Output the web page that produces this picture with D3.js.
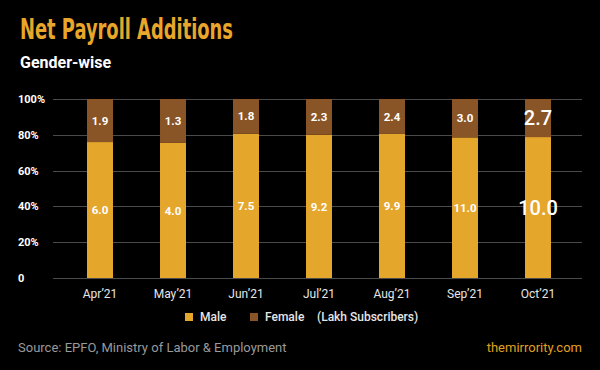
<!DOCTYPE html>
<html>
<head>
<meta charset="utf-8">
<script src="https://cdn.jsdelivr.net/npm/d3@7"></script>
<style>
  html, body { margin: 0; padding: 0; background: #000; }
  svg { display: block; font-family: Roboto, "Noto Sans", sans-serif; }
</style>
</head>
<body>
<svg id="chart" width="600" height="370"></svg>
<script>
  const months = ['Apr’21', 'May’21', 'Jun’21', 'Jul’21', 'Aug’21', 'Sep’21', 'Oct’21'];
  const male = [6.0, 4.0, 7.5, 9.2, 9.9, 11.0, 10.0];
  const female = [1.9, 1.3, 1.8, 2.3, 2.4, 3.0, 2.7];
  const yTicks = [0, 0.2, 0.4, 0.6, 0.8, 1];
  const yTickLabels = ['0', '20%', '40%', '60%', '80%', '100%'];
  const seriesKeys = ['male', 'female'];
  const seriesNames = ['Male', 'Female'];

  const colors = { male: '#e5a62c', female: '#8a5526' };
  const [width, height] = [600, 370];

  const rows = months.map((m, i) => ({ month: m, male: male[i], female: female[i] }));

  const svg = d3.select('#chart');

  svg.append('rect')
      .attr('width', width)
      .attr('height', height)
      .attr('fill', '#000');

  // title
  svg.append('text')
      .attr('x', 20)
      .attr('y', 39)
      .attr('fill', '#e8a62a')
      .attr('font-family', '"Liberation Sans Narrow", "DejaVu Sans Condensed", "DejaVu Sans", sans-serif')
      .attr('font-weight', 'bold')
      .attr('font-size', 29)
      .attr('textLength', 213)
      .attr('lengthAdjust', 'spacingAndGlyphs')
      .text('Net Payroll Additions');

  svg.append('text')
      .attr('x', 20)
      .attr('y', 68)
      .attr('fill', '#fff')
      .attr('font-weight', 'bold')
      .attr('font-size', 16)
      .text('Gender-wise');

  const x = d3.scaleBand()
      .domain(months)
      .range([63.5, 574.5])
      .paddingInner(0.644)
      .paddingOuter(0.322);

  const y = d3.scaleLinear()
      .domain([0, 1])
      .range([278, 99]);

  const stacked = d3.stack()
      .keys(seriesKeys)
      .offset(d3.stackOffsetExpand)(rows);

  // grid
  svg.append('g')
    .selectAll('line')
    .data(yTicks)
    .join('line')
      .attr('x1', 53)
      .attr('x2', 582)
      .attr('y1', d => Math.round(y(d)) + 0.5)
      .attr('y2', d => Math.round(y(d)) + 0.5)
      .attr('stroke', '#4a4a4a')
      .attr('stroke-width', 1);

  svg.append('g')
    .selectAll('text')
    .data(yTicks)
    .join('text')
      .attr('x', 18)
      .attr('y', d => y(d))
      .attr('dy', '0.36em')
      .attr('fill', '#fff')
      .attr('font-weight', 'bold')
      .attr('font-size', 11)
      .text((d, i) => yTickLabels[i]);

  // bars
  const layer = svg.append('g')
    .selectAll('g')
    .data(stacked)
    .join('g')
      .attr('fill', d => colors[d.key]);

  layer.selectAll('rect')
    .data(d => d)
    .join('rect')
      .attr('x', d => x(d.data.month))
      .attr('width', x.bandwidth())
      .attr('y', d => y(d[1]))
      .attr('height', d => y(d[0]) - y(d[1]));

  // values
  const last = months[months.length - 1];
  svg.append('g')
    .selectAll('g')
    .data(stacked)
    .join('g')
    .selectAll('text')
    .data(s => s.map(d => ({ d, key: s.key })))
    .join('text')
      .attr('x', ({ d }) => x(d.data.month) + x.bandwidth() / 2)
      .attr('y', ({ d }) => (y(d[0]) + y(d[1])) / 2)
      .attr('dy', '0.36em')
      .attr('text-anchor', 'middle')
      .attr('fill', '#fff')
      .attr('font-weight', ({ d }) => d.data.month === last ? 500 : 'bold')
      .attr('font-size', ({ d }) => d.data.month === last ? 20 : 11.5)
      .text(({ d, key }) => d.data[key].toFixed(1));

  // x labels
  svg.append('g')
    .selectAll('text')
    .data(months)
    .join('text')
      .attr('x', d => x(d) + x.bandwidth() / 2)
      .attr('y', 298)
      .attr('text-anchor', 'middle')
      .attr('fill', '#e6e6e6')
      .attr('font-size', 12)
      .text(d => d);

  // legend
  const legendX = [185, 250];
  const legend = svg.append('g')
    .selectAll('g')
    .data(seriesKeys)
    .join('g')
      .attr('transform', (d, i) => `translate(${legendX[i]},313)`);

  legend.append('rect')
      .attr('width', 8)
      .attr('height', 8)
      .attr('fill', d => colors[d]);

  legend.append('text')
      .attr('x', 15)
      .attr('y', 4)
      .attr('dy', '0.36em')
      .attr('fill', '#e6e6e6')
      .attr('font-size', 12)
      .attr('font-weight', 500)
      .text((d, i) => seriesNames[i]);

  svg.append('text')
      .attr('x', 317)
      .attr('y', 317)
      .attr('dy', '0.36em')
      .attr('fill', '#e6e6e6')
      .attr('font-size', 12)
      .attr('font-weight', 500)
      .text('(Lakh Subscribers)');

  // footer
  svg.append('text')
      .attr('x', 18)
      .attr('y', 352)
      .attr('fill', '#9a9a9a')
      .attr('font-size', 13)
      .text('Source: EPFO, Ministry of Labor & Employment');

  svg.append('text')
      .attr('x', 582)
      .attr('y', 352)
      .attr('text-anchor', 'end')
      .attr('fill', '#e0a020')
      .attr('font-size', 13)
      .text('themirrority.com');
</script>
</body>
</html>
